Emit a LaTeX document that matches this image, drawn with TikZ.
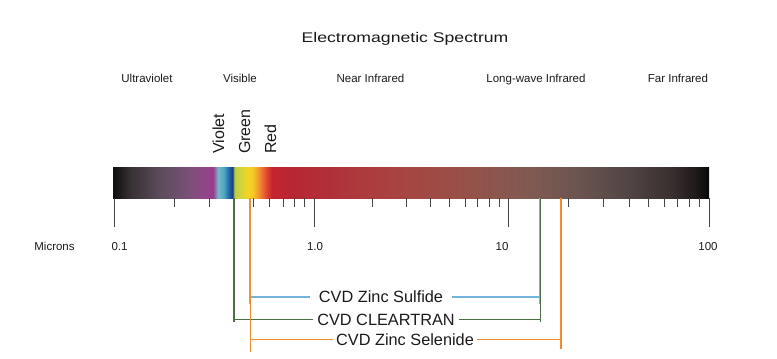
\documentclass[tikz,border=0pt]{standalone}
\usepackage{fontspec}
\setmainfont{Liberation Sans}
\newfontfamily\titlefont[FakeStretch=1.26]{Liberation Sans}
\definecolor{txt}{HTML}{1A1A1A}
\definecolor{tickc}{HTML}{444444}
\definecolor{lgreen}{HTML}{4A6E46}
\definecolor{lblue}{HTML}{72B4DC}
\definecolor{lorange}{HTML}{F08C2C}
\definecolor{s01}{HTML}{0E0E0E}
\definecolor{s02}{HTML}{363033}
\definecolor{s03}{HTML}{5C4C5C}
\definecolor{s04}{HTML}{7C5078}
\definecolor{s05}{HTML}{904688}
\definecolor{s06}{HTML}{9A3C8E}
\definecolor{s07}{HTML}{7AB4C8}
\definecolor{s08}{HTML}{4AA8C4}
\definecolor{s09}{HTML}{2870A8}
\definecolor{s10}{HTML}{1A3C80}
\definecolor{s11}{HTML}{B8CC48}
\definecolor{s12}{HTML}{D0D438}
\definecolor{s13}{HTML}{F4D422}
\definecolor{s14}{HTML}{F6C824}
\definecolor{s15}{HTML}{F29030}
\definecolor{s16}{HTML}{E24A30}
\definecolor{s17}{HTML}{C42430}
\definecolor{s18}{HTML}{B82632}
\definecolor{s19}{HTML}{B0303A}
\definecolor{s20}{HTML}{AA4240}
\definecolor{s21}{HTML}{985048}
\definecolor{s22}{HTML}{805A52}
\definecolor{s23}{HTML}{6A5450}
\definecolor{s24}{HTML}{504444}
\definecolor{s25}{HTML}{3A3030}
\definecolor{s26}{HTML}{201A1A}
\definecolor{s27}{HTML}{080808}
\pgfdeclarehorizontalshading{spec}{100bp}{color(0bp)=(s01); color(25bp)=(s01);
 color(26.43bp)=(s02); color(28.94bp)=(s03); color(31.46bp)=(s04); color(32.72bp)=(s05);
 color(33.39bp)=(s06); color(33.81bp)=(s07); color(34.31bp)=(s08); color(34.65bp)=(s09);
 color(35.03bp)=(s10); color(35.19bp)=(s11); color(35.65bp)=(s12); color(36.33bp)=(s13);
 color(36.74bp)=(s14); color(37.25bp)=(s15); color(37.84bp)=(s16); color(38.34bp)=(s17);
 color(39.85bp)=(s18); color(43.2bp)=(s19); color(48.24bp)=(s20); color(54.11bp)=(s21);
 color(59.98bp)=(s22); color(64.18bp)=(s23); color(68.37bp)=(s24); color(71.73bp)=(s25);
 color(73.83bp)=(s26); color(75bp)=(s27); color(100bp)=(s27)}
\begin{document}
\begin{tikzpicture}[x=1pt,y=-1pt,
  cat/.style={font=\fontsize{11.5}{13}\selectfont, text=txt, anchor=base, inner sep=0pt},
  vlab/.style={font=\fontsize{16}{18}\selectfont, text=txt, rotate=90, anchor=base west, inner sep=0pt},
  mat/.style={font=\fontsize{16.3}{18}\selectfont, text=txt, text height=11.7pt, text depth=0pt, inner ysep=0pt},
  tick/.style={draw=tickc, line width=0.9pt},
  rng/.style={line width=1.3pt}]
\useasboundingbox (0,0) rectangle (777,359);
% title and region labels
\node[anchor=base, inner sep=0pt, text=txt, font=\titlefont\fontsize{14}{16}\selectfont] (title) at (405,42.7) {Electromagnetic Spectrum};
\node[cat] (uv) at (147,82.7) {Ultraviolet};
\node[cat] (vis) at (240,82.7) {Visible};
\node[cat] (nir) at (370.5,82.7) {Near Infrared};
\node[cat] (lwir) at (536,82.7) {Long-wave Infrared};
\node[cat] (fir) at (678,82.7) {Far Infrared};
% colour names
\node[vlab] (violet) at (224,154) {Violet};
\node[vlab] (green) at (250,154) {Green};
\node[vlab] (red) at (276,154) {Red};
% spectrum bar
\shade[shading=spec] (113,167) rectangle (709,198);
% ticks
\foreach \x in {114,314,508,709} \draw[tick] (\x,198) -- (\x,227);
\foreach \a/\d in {114/200,314/194,508/201}
  \foreach \k in {2,...,9} \draw[tick] ({\a+\d*log10(\k)},198) -- ++(0,9);
% axis labels
\node[cat] (microns) at (54.5,250) {Microns};
\node[cat] (t01) at (119.5,250) {0.1};
\node[cat] (t1) at (315,250) {1.0};
\node[cat] (t10) at (502,250) {10};
\node[cat] (t100) at (708,250) {100};
% material ranges
\node[mat, inner xsep=9pt] (zns) at (381,297) {CVD Zinc Sulfide};
\node[mat, inner xsep=4pt] (clr) at (386,319.3) {CVD CLEARTRAN};
\node[mat, inner xsep=2.5pt] (znse) at (405,339.3) {CVD Zinc Selenide};
\coordinate (gLt) at (234,198); \coordinate (gLb) at (234,322);
\coordinate (gRt) at (540.5,198); \coordinate (gRb) at (540.5,322);
\coordinate (gLm) at (234,319.3); \coordinate (gRm) at (540.5,319.3);
\coordinate (bLt) at (249.3,198); \coordinate (bLb) at (249.3,304);
\coordinate (bRt) at (539.3,198); \coordinate (bRb) at (539.3,304);
\coordinate (bLm) at (249.3,297); \coordinate (bRm) at (539.3,297);
\coordinate (oLt) at (250.7,198); \coordinate (oLb) at (250.7,352);
\coordinate (oRt) at (561,198); \coordinate (oRb) at (561,349);
\coordinate (oLm) at (250.7,339.3); \coordinate (oRm) at (561,339.3);
\draw[rng, lgreen] (gLt) -- (gLb); \draw[rng, lgreen] (gRt) -- (gRb);
\draw[rng, lgreen] (gLm) -- (clr.west); \draw[rng, lgreen] (clr.east) -- (gRm);
\draw[rng, lblue] (bLt) -- (bLb); \draw[rng, lblue] (bRt) -- (bRb);
\draw[rng, lblue] (bLm) -- (zns.west); \draw[rng, lblue] (zns.east) -- (bRm);
\draw[rng, lorange] (oLt) -- (oLb); \draw[rng, lorange] (oRt) -- (oRb);
\draw[rng, lorange] (oLm) -- (znse.west); \draw[rng, lorange] (znse.east) -- (oRm);
\end{tikzpicture}
\end{document}
